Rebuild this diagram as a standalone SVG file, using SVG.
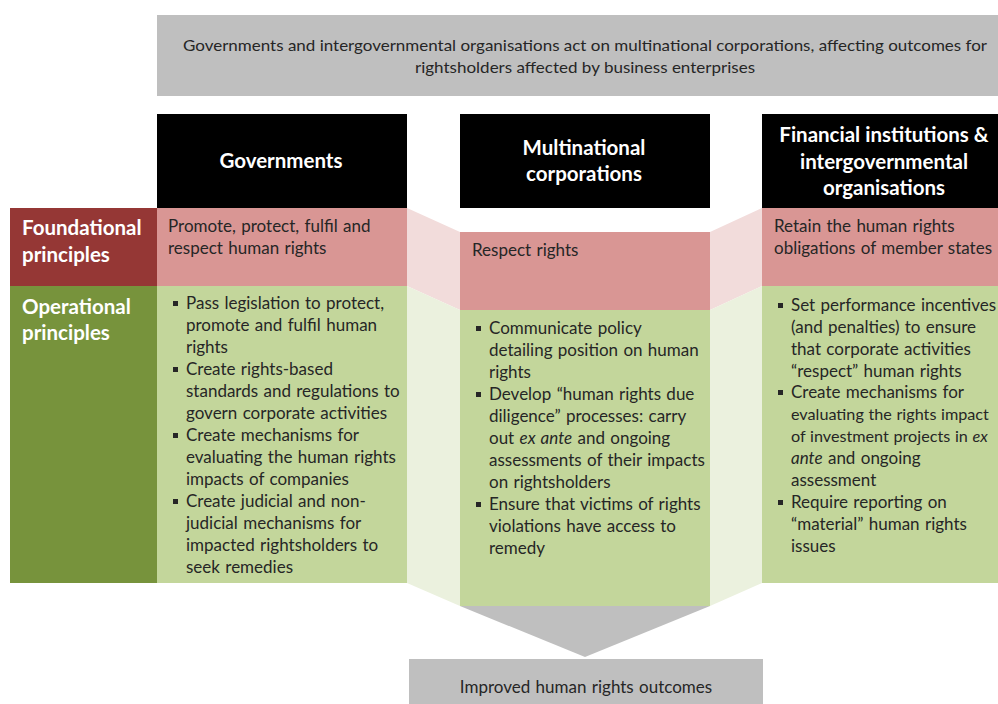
<svg xmlns="http://www.w3.org/2000/svg" width="998" height="704" viewBox="0 0 998 704">
<style>
.body{font-family:Lato,"Liberation Sans",sans-serif;font-size:17px;word-spacing:1px;fill:#262626}
.tight{font-size:16.2px;word-spacing:0.5px}
.hdr{font-family:Lato,"Liberation Sans",sans-serif;font-size:20.5px;font-weight:bold;fill:#ffffff;text-anchor:middle}
.lbl{font-family:Lato,"Liberation Sans",sans-serif;font-size:20.5px;font-weight:bold;fill:#ffffff}
.banner{font-family:Lato,"Liberation Sans",sans-serif;font-size:15px;fill:#262626;text-anchor:middle}
.black{fill:#000000}
.pink{fill:#d99694}
.green{fill:#c3d69b}
.gray{fill:#bfbfbf}
.lpink{fill:#f2dcdb}
.lgreen{fill:#ebf1de}
.bul{fill:#262626}
</style>
<defs>
<rect id="b" width="5" height="5" class="bul"/>
</defs>
<rect width="998" height="704" fill="#ffffff"/>

<g id="connectors">
<polygon class="lpink" points="407,208 460,232 460,310 407,286"/>
<polygon class="lgreen" points="407,286 460,310 460,606 407,583"/>
<polygon class="lpink" points="710,232 762,208 762,286 710,310"/>
<polygon class="lgreen" points="710,310 762,286 762,583 710,606"/>
<polygon class="gray" points="460,606 710,606 585,657"/>
</g>

<g id="banner">
<rect class="gray" x="157" y="15" width="841" height="81"/>
<text class="banner" x="585" y="51" textLength="804" lengthAdjust="spacingAndGlyphs">Governments and intergovernmental organisations act on multinational corporations, affecting outcomes for</text>
<text class="banner" x="585" y="73" textLength="340" lengthAdjust="spacingAndGlyphs">rightsholders affected by business enterprises</text>
</g>

<g id="label-foundational">
<rect x="10" y="208" width="147" height="78" fill="#953735"/>
<text class="lbl" x="22" y="235">Foundational</text>
<text class="lbl" x="22" y="262">principles</text>
</g>

<g id="label-operational">
<rect x="10" y="286" width="147" height="297" fill="#77933c"/>
<text class="lbl" x="22" y="314">Operational</text>
<text class="lbl" x="22" y="340">principles</text>
</g>

<g id="governments">
<rect class="black" x="157" y="114" width="250" height="94"/>
<text class="hdr" x="281" y="168">Governments</text>
<rect class="pink" x="157" y="208" width="250" height="78"/>
<text class="body" x="168" y="232">Promote, protect, fulfil and</text>
<text class="body" x="168" y="254">respect human rights</text>
<rect class="green" x="157" y="286" width="250" height="297"/>
<use href="#b" x="173" y="301"/>
<use href="#b" x="173" y="367"/>
<use href="#b" x="173" y="433"/>
<use href="#b" x="173" y="499"/>
<text class="body" x="186" y="309">Pass legislation to protect,</text>
<text class="body" x="186" y="331">promote and fulfil human</text>
<text class="body" x="186" y="353">rights</text>
<text class="body" x="186" y="375">Create rights-based</text>
<text class="body" x="186" y="397">standards and regulations to</text>
<text class="body" x="186" y="419">govern corporate activities</text>
<text class="body" x="186" y="441">Create mechanisms for</text>
<text class="body" x="186" y="463">evaluating the human rights</text>
<text class="body" x="186" y="485">impacts of companies</text>
<text class="body" x="186" y="507">Create judicial and non-</text>
<text class="body" x="186" y="529">judicial mechanisms for</text>
<text class="body" x="186" y="551">impacted rightsholders to</text>
<text class="body" x="186" y="573">seek remedies</text>
</g>

<g id="corporations">
<rect class="black" x="460" y="114" width="250" height="94"/>
<text class="hdr" x="584" y="155">Multinational</text>
<text class="hdr" x="584" y="181">corporations</text>
<rect class="pink" x="460" y="232" width="250" height="78"/>
<text class="body" x="472" y="256">Respect rights</text>
<rect class="green" x="460" y="310" width="250" height="296"/>
<use href="#b" x="476" y="326"/>
<use href="#b" x="476" y="392"/>
<use href="#b" x="476" y="502"/>
<text class="body" x="489" y="334">Communicate policy</text>
<text class="body" x="489" y="356">detailing position on human</text>
<text class="body" x="489" y="378">rights</text>
<text class="body" x="489" y="400">Develop “human rights due</text>
<text class="body" x="489" y="422">diligence” processes: carry</text>
<text class="body" x="489" y="444">out <tspan font-style="italic">ex ante</tspan> and ongoing</text>
<text class="body" x="489" y="466">assessments of their impacts</text>
<text class="body" x="489" y="488">on rightsholders</text>
<text class="body" x="489" y="510">Ensure that victims of rights</text>
<text class="body" x="489" y="532">violations have access to</text>
<text class="body" x="489" y="554">remedy</text>
</g>

<g id="financial">
<rect class="black" x="762" y="114" width="236" height="94"/>
<text class="hdr" x="884" y="142">Financial institutions &amp;</text>
<text class="hdr" x="884" y="169">intergovernmental</text>
<text class="hdr" x="884" y="195">organisations</text>
<rect class="pink" x="762" y="208" width="236" height="78"/>
<text class="body" x="774" y="232">Retain the human rights</text>
<text class="body" x="774" y="254">obligations of member states</text>
<rect class="green" x="762" y="286" width="236" height="297"/>
<use href="#b" x="778" y="303"/>
<use href="#b" x="778" y="390"/>
<use href="#b" x="778" y="500"/>
<text class="body" x="791" y="311">Set performance incentives</text>
<text class="body" x="791" y="333">(and penalties) to ensure</text>
<text class="body" x="791" y="355">that corporate activities</text>
<text class="body" x="791" y="377">“respect” human rights</text>
<text class="body" x="791" y="398">Create mechanisms for</text>
<text class="body tight" x="791" y="420">evaluating the rights impact</text>
<text class="body tight" x="791" y="442">of investment projects in <tspan font-style="italic">ex</tspan></text>
<text class="body" x="791" y="464"><tspan font-style="italic">ante</tspan> and ongoing</text>
<text class="body" x="791" y="486">assessment</text>
<text class="body" x="791" y="508">Require reporting on</text>
<text class="body" x="791" y="530">“material” human rights</text>
<text class="body" x="791" y="552">issues</text>
</g>

<g id="outcome">
<rect class="gray" x="409" y="659" width="354" height="45"/>
<text class="body" x="586" y="693" text-anchor="middle">Improved human rights outcomes</text>
</g>
</svg>
